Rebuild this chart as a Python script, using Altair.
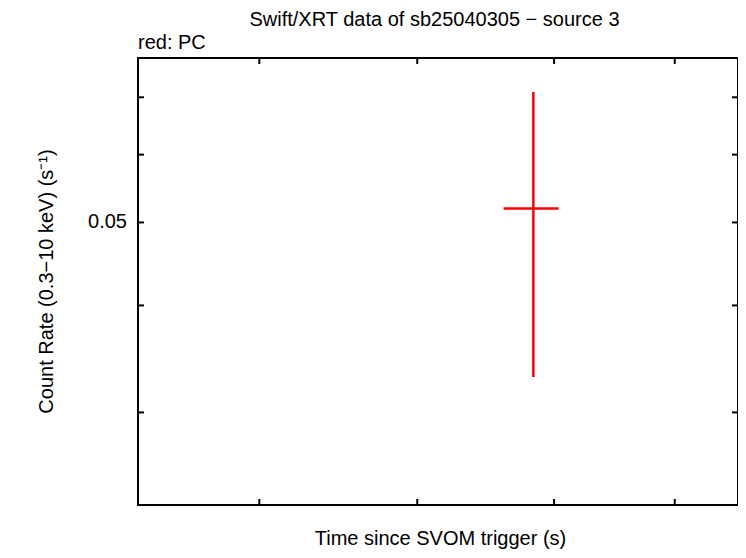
import altair as alt
import pandas as pd

# ---- data ----
time = [7840]
time_lo = [7615]
time_hi = [8035]
rate = [0.0519]
rate_lo = [0.0330]
rate_hi = [0.0710]

x_ticks = [6000, 7000, 8000, 9000]
y_ticks = [0.03, 0.04, 0.05, 0.06, 0.07]
y_labels = [0.05]
x_domain = [5330, 9573]
y_domain = [0.02339, 0.0778]

title_txt = "Swift/XRT data of sb25040305 \u2212 source 3"
legend_lbl = "red: PC"
x_title = "Time since SVOM trigger (s)"
y_title = "Count Rate (0.3\u221210 keV) (s\u207b\u00b9)"

W, H = 600, 447
FONT = "Liberation Sans"
FS = 20
TICK = 6

df = pd.DataFrame(dict(t=time, tlo=time_lo, thi=time_hi, r=rate, rlo=rate_lo, rhi=rate_hi))
xt = pd.DataFrame({"v": x_ticks})
yt = pd.DataFrame({"v": y_ticks})
yl = pd.DataFrame({"v": y_labels, "s": [f"{v:.2f}" for v in y_labels]})
one = pd.DataFrame({"a": [0]})

xs = alt.Scale(type="log", domain=x_domain, nice=False)
ys = alt.Scale(type="log", domain=y_domain, nice=False)

vbar = alt.Chart(df).mark_rule(color="red", strokeWidth=2.5).encode(
    x=alt.X("t:Q", scale=xs, axis=None),
    y=alt.Y("rlo:Q", scale=ys, axis=None),
    y2="rhi:Q",
)
hbar = alt.Chart(df).mark_rule(color="red", strokeWidth=2.5).encode(
    x=alt.X("tlo:Q", scale=xs, axis=None),
    x2="thi:Q",
    y=alt.Y("r:Q", scale=ys, axis=None),
)

xt_bot = alt.Chart(xt).mark_rule(color="black", strokeWidth=2).encode(
    x=alt.X("v:Q", scale=xs, axis=None), y=alt.value(H), y2=alt.value(H - TICK))
xt_top = alt.Chart(xt).mark_rule(color="black", strokeWidth=2).encode(
    x=alt.X("v:Q", scale=xs, axis=None), y=alt.value(0), y2=alt.value(TICK))
yt_left = alt.Chart(yt).mark_rule(color="black", strokeWidth=2).encode(
    y=alt.Y("v:Q", scale=ys, axis=None), x=alt.value(0), x2=alt.value(TICK))
yt_right = alt.Chart(yt).mark_rule(color="black", strokeWidth=2).encode(
    y=alt.Y("v:Q", scale=ys, axis=None), x=alt.value(W), x2=alt.value(W - TICK))

y_lab = alt.Chart(yl).mark_text(align="right", baseline="middle", font=FONT,
                                fontSize=FS, color="black").encode(
    y=alt.Y("v:Q", scale=ys, axis=None), x=alt.value(-11), text="s:N")


def txt(s, x, y, **kw):
    return alt.Chart(one).mark_text(text=s, baseline="alphabetic", font=FONT,
                                    fontSize=FS, color="black", **kw).encode(
        x=alt.value(x), y=alt.value(y))


t_main = txt(title_txt, 296.5, -32.3, align="center")
t_leg = txt(legend_lbl, 0, -8.7, align="left")
t_x = txt(x_title, 302.5, 487, align="center")
t_y = txt(y_title, -85, 223.5, align="center", angle=270)

chart = alt.layer(vbar, hbar, xt_bot, xt_top, yt_left, yt_right, y_lab,
                  t_main, t_leg, t_x, t_y).properties(
    width=W, height=H,
    autosize=alt.AutoSizeParams(type="none"),
    padding={"left": 130, "top": 50, "right": 0, "bottom": 45},
    background="white",
).configure_view(stroke="black", strokeWidth=2)

chart.save("out.html", embed_options={"renderer": "svg", "actions": False})
